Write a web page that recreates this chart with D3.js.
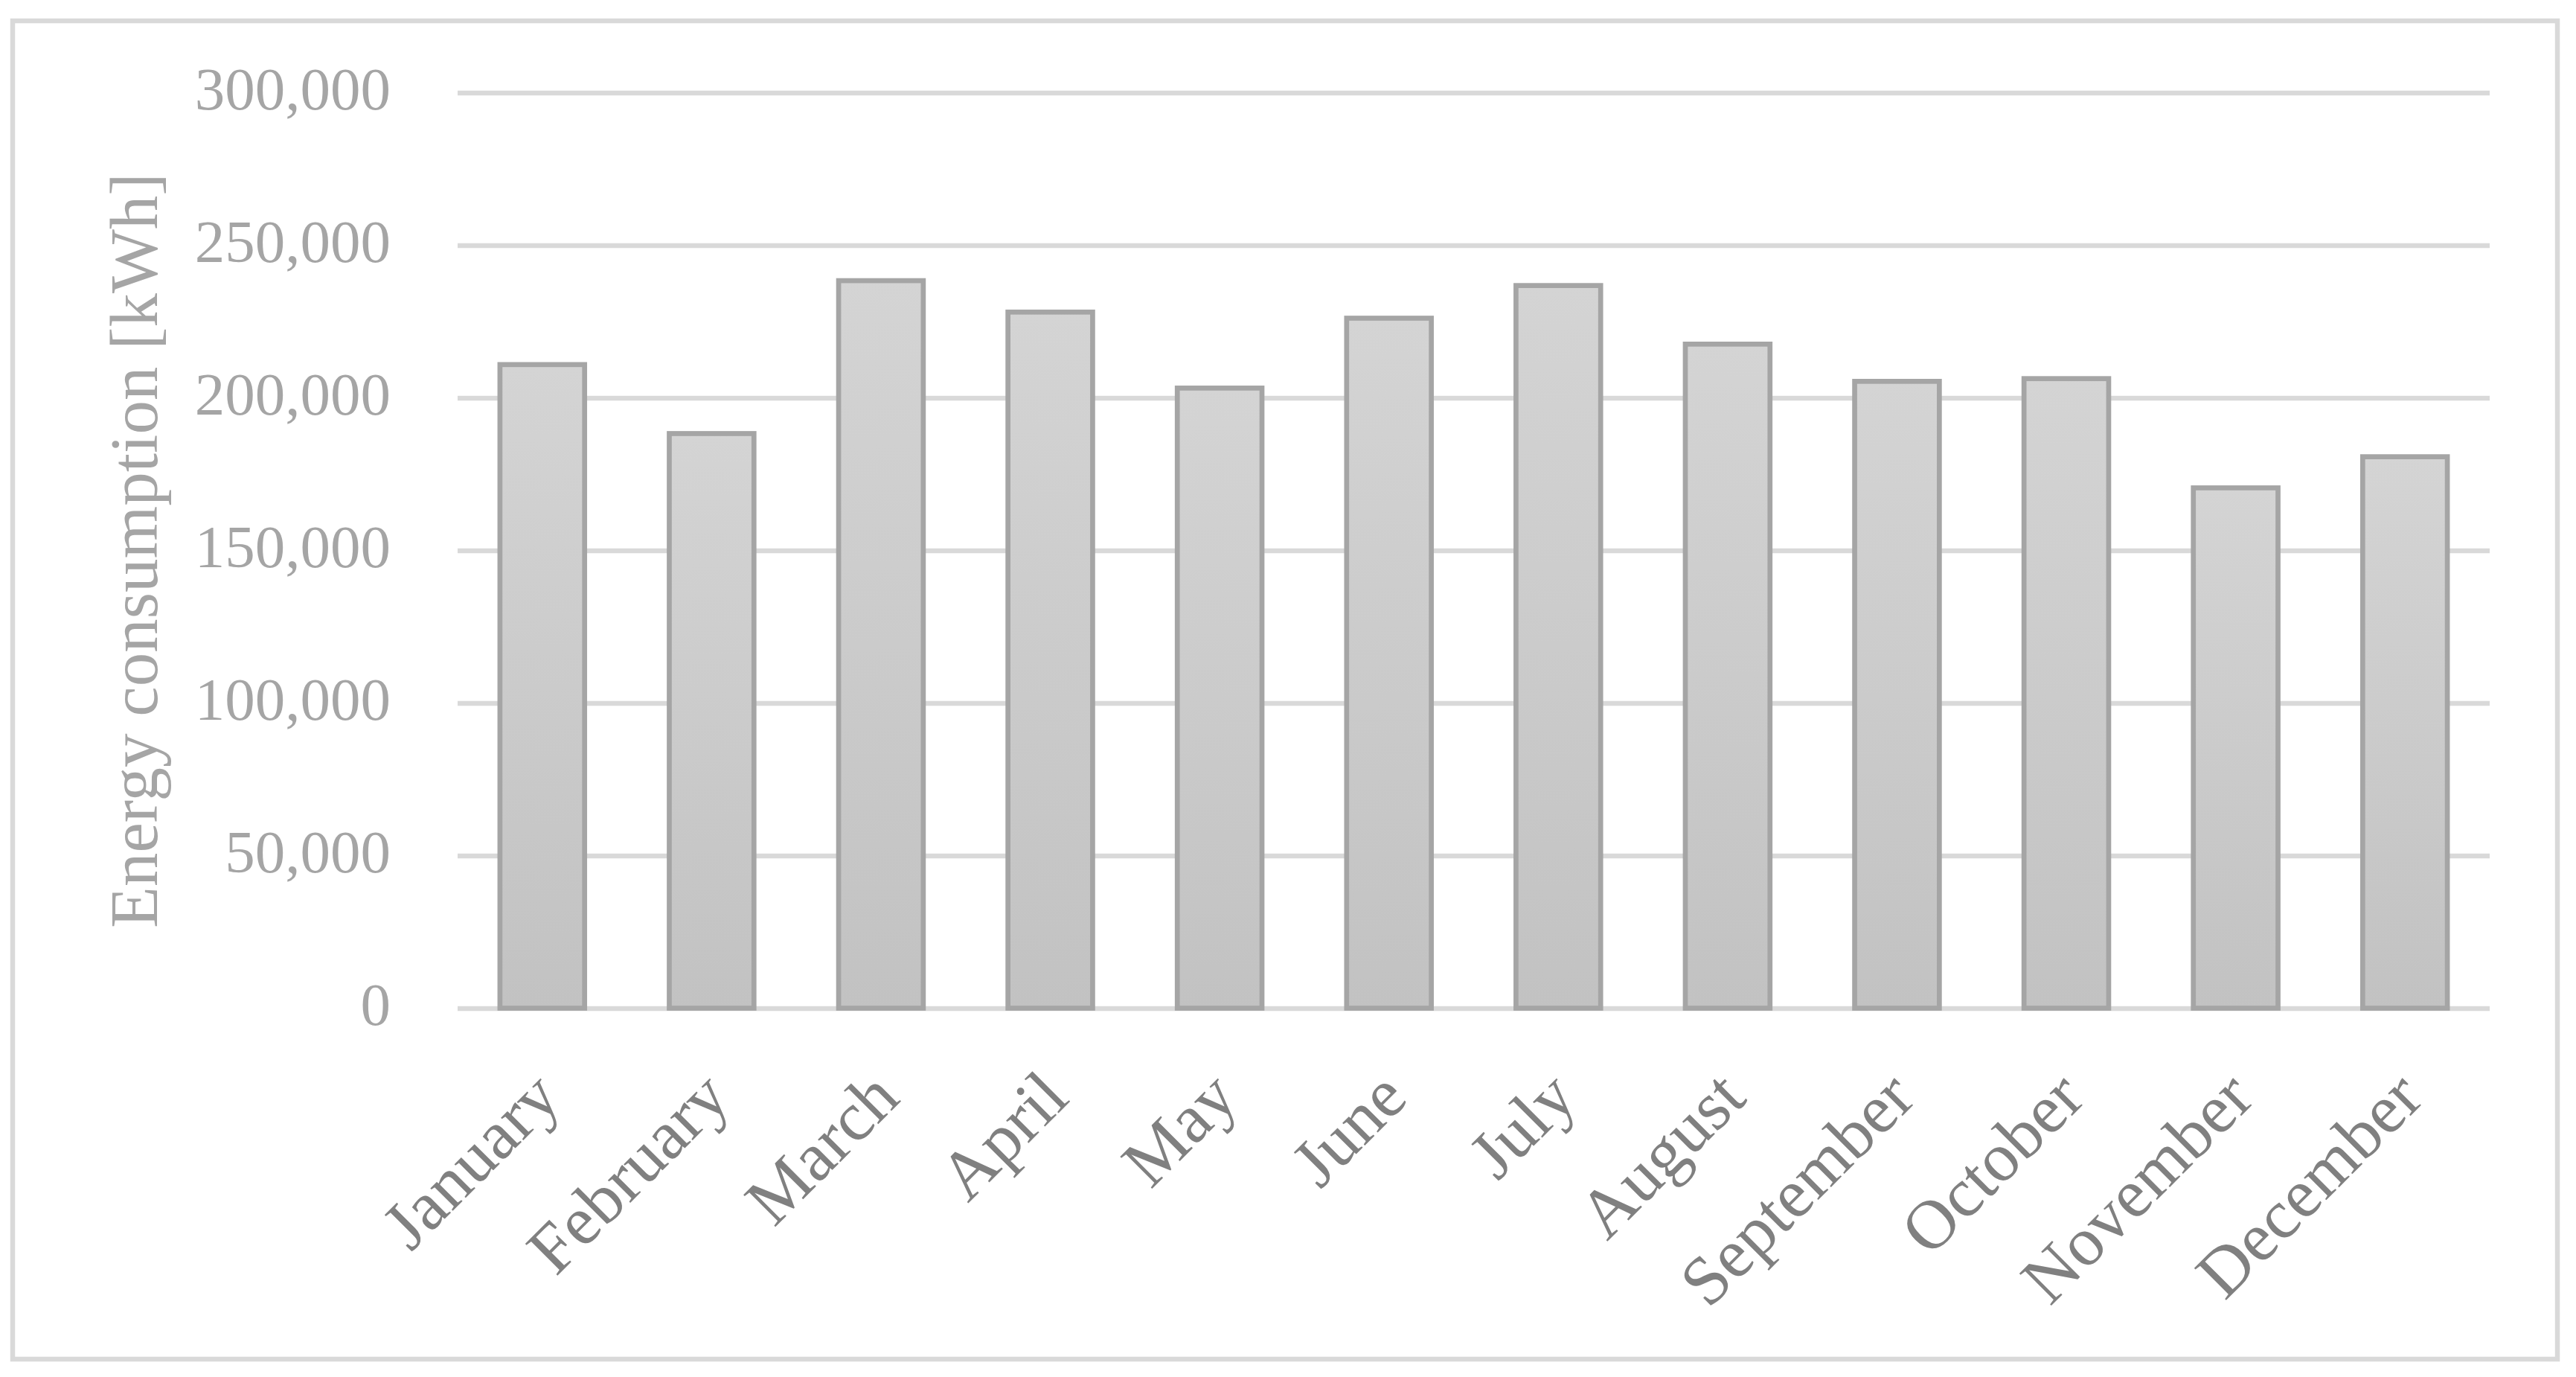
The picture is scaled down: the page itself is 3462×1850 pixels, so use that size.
<!DOCTYPE html>
<html>
<head>
<meta charset="utf-8">
<script src="https://cdn.jsdelivr.net/npm/d3@7"></script>
<style>
  html, body { margin: 0; padding: 0; background: #ffffff; }
  svg { display: block; }
</style>
</head>
<body>
<script>
// ---- Data ----
const months = ["January","February","March","April","May","June","July","August","September","October","November","December"];
const consumption = [210900, 188300, 238400, 228100, 203200, 226100, 236800, 217600, 205400, 206300, 170500, 180700];
const yTicks = [0, 50000, 100000, 150000, 200000, 250000, 300000];
const yTitle = "Energy consumption [kWh]";

// ---- Layout ----
const W = 3462, H = 1850;
const plot = { left: 615, right: 3346, top: 124.5, bottom: 1354.5 };
const fontFamily = "'Liberation Serif', 'Times New Roman', serif";

const svg = d3.select("body").append("svg")
  .attr("width", W).attr("height", H);

// outer border
svg.append("rect")
  .attr("x", 17).attr("y", 28)
  .attr("width", 3437 - 17).attr("height", 1826 - 28)
  .attr("fill", "#ffffff")
  .attr("stroke", "#d9d9d9").attr("stroke-width", 6.5);

const x = d3.scaleBand().domain(months)
  .range([plot.left, plot.right]).paddingInner(0.5).paddingOuter(0.25);
const y = d3.scaleLinear().domain([0, 300000]).range([plot.bottom, plot.top]);

// gradient for bars
const defs = svg.append("defs");
const grad = defs.append("linearGradient").attr("id", "barGrad")
  .attr("x1", 0).attr("y1", 0).attr("x2", 0).attr("y2", 1);
grad.append("stop").attr("offset", "0%").attr("stop-color", "#d4d4d4");
grad.append("stop").attr("offset", "100%").attr("stop-color", "#c2c2c2");

// gridlines
const grid = svg.append("g").attr("transform", `translate(${plot.left},0)`)
  .call(d3.axisLeft(y).tickValues(yTicks).tickSize(-(plot.right - plot.left)).tickFormat(""));
grid.select(".domain").remove();
grid.selectAll(".tick line").attr("stroke", "#d9d9d9").attr("stroke-width", 6.5);

// y tick labels
const yAxis = svg.append("g").attr("transform", `translate(${plot.left},0)`)
  .call(d3.axisLeft(y).tickValues(yTicks).tickSize(0).tickPadding(90)
    .tickFormat(d3.format(",")));
yAxis.select(".domain").remove();
yAxis.selectAll(".tick text")
  .attr("dy", "22px")
  .attr("fill", "#a5a5a5")
  .style("font-family", fontFamily)
  .style("font-size", "81px");

// bars
svg.append("g").selectAll("rect").data(months).join("rect")
  .attr("x", d => x(d))
  .attr("width", x.bandwidth())
  .attr("y", (d, i) => y(consumption[i]))
  .attr("height", (d, i) => y(0) - y(consumption[i]))
  .attr("fill", "url(#barGrad)")
  .attr("stroke", "#a5a5a5")
  .attr("stroke-width", 6.7);

// x axis labels
const xAxis = svg.append("g").attr("transform", `translate(0,${plot.bottom})`)
  .call(d3.axisBottom(x).tickSize(0).tickPadding(0));
xAxis.select(".domain").remove();
xAxis.selectAll(".tick text")
  .attr("text-anchor", "end")
  .attr("dy", null)
  .attr("y", null)
  .attr("transform", "translate(28,124) rotate(-45)")
  .attr("fill", "#808080")
  .style("font-family", fontFamily)
  .style("font-size", "93px");

// y axis title
svg.append("text")
  .attr("transform", `translate(211,${(plot.top + plot.bottom) / 2}) rotate(-90)`)
  .attr("text-anchor", "middle")
  .attr("fill", "#a5a5a5")
  .style("font-family", fontFamily)
  .style("font-size", "91px")
  .text(yTitle);
</script>
</body>
</html>
